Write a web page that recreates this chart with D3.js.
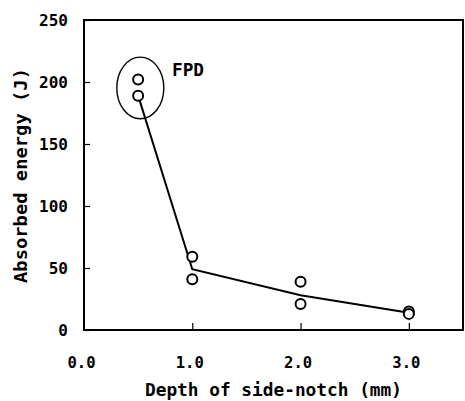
<!DOCTYPE html>
<html><head><meta charset="utf-8">
<script src="https://cdn.jsdelivr.net/npm/d3@7"></script>
<style>body{margin:0;background:#fff}svg{display:block}</style>
</head><body>
<script>
const depths = [0.5, 0.5, 1.0, 1.0, 2.0, 2.0, 3.0, 3.0];
const energies = [202, 189, 59, 41, 39, 21, 15, 13];
const fitDepths = [0.5, 1.0, 2.0, 3.0];
const fitEnergies = [189, 49, 28, 14];
const xTicks = [0, 1, 2, 3];
const yTicks = [0, 50, 100, 150, 200, 250];
const xTitle = "Depth of side-notch (mm)";
const yTitle = "Absorbed energy (J)";
const groupLabel = "FPD";

const W = 465, H = 401;
const L = 84, R = 463, T = 20, B = 330;
const font = "'DejaVu Sans Mono', monospace";
const svg = d3.select("body").append("svg").attr("width", W).attr("height", H);
const x = d3.scaleLinear().domain([0, 3.5]).range([L, R]);
const y = d3.scaleLinear().domain([0, 250]).range([B, T]);

// frame
svg.append("rect").attr("x", L).attr("y", T).attr("width", R - L).attr("height", B - T)
  .attr("fill", "none").attr("stroke", "#000").attr("stroke-width", 2);

// y axis
const ya = svg.append("g").attr("transform", `translate(${L},0)`)
  .call(d3.axisRight(y).tickValues(yTicks).tickSize(6).tickFormat(d3.format("d")));
ya.select(".domain").remove();
ya.selectAll("line").attr("stroke", "#000").attr("stroke-width", 1.2);
ya.selectAll("text").attr("x", -16).attr("text-anchor", "end")
  .attr("font-family", font).attr("font-weight", "bold").attr("font-size", 16).attr("fill", "#000");

// x axis
const xa = svg.append("g").attr("transform", `translate(0,${B})`)
  .call(d3.axisTop(x).tickValues(xTicks).tickSize(7).tickFormat(d3.format(".1f")));
xa.select(".domain").remove();
xa.selectAll("line").attr("stroke", "#000").attr("stroke-width", 1.2)
  .attr("opacity", d => d === 0 ? 0 : 1);
xa.selectAll("text").attr("y", 38).attr("dy", 0).attr("dx", -3).attr("text-anchor", "middle")
  .attr("font-family", font).attr("font-weight", "bold").attr("font-size", 15.5).attr("fill", "#000");

// titles
svg.append("text").attr("x", (145 + 402) / 2).attr("y", 396).attr("text-anchor", "middle")
  .attr("font-family", font).attr("font-weight", "bold").attr("font-size", 17.5)
  .attr("textLength", 257).attr("lengthAdjust", "spacingAndGlyphs").text(xTitle);
svg.append("text").attr("transform", "translate(27,175.5) rotate(-90)").attr("text-anchor", "middle")
  .attr("font-family", font).attr("font-weight", "bold").attr("font-size", 18)
  .attr("textLength", 215).attr("lengthAdjust", "spacingAndGlyphs").text(yTitle);

// fit line
const line = d3.line().x((d, i) => x(d)).y((d, i) => y(fitEnergies[i]));
svg.append("path").datum(fitDepths).attr("d", line)
  .attr("fill", "none").attr("stroke", "#000").attr("stroke-width", 2);

// points
svg.selectAll("circle.pt").data(depths).join("circle").attr("class", "pt")
  .attr("cx", d => x(d)).attr("cy", (d, i) => y(energies[i])).attr("r", 5)
  .attr("fill", "#fff").attr("stroke", "#000").attr("stroke-width", 2);

// FPD ellipse and label
const ex = x(0.52), ey = y((202 + 189) / 2 - 0.3);
svg.append("ellipse").attr("cx", ex).attr("cy", ey).attr("rx", 23.5).attr("ry", 30.8)
  .attr("fill", "none").attr("stroke", "#000").attr("stroke-width", 1.4);
svg.append("text").attr("x", 172).attr("y", 76).attr("font-family", font).attr("font-weight", "bold")
  .attr("font-size", 17).attr("textLength", 32).attr("lengthAdjust", "spacingAndGlyphs").text(groupLabel);
</script>
</body></html>
